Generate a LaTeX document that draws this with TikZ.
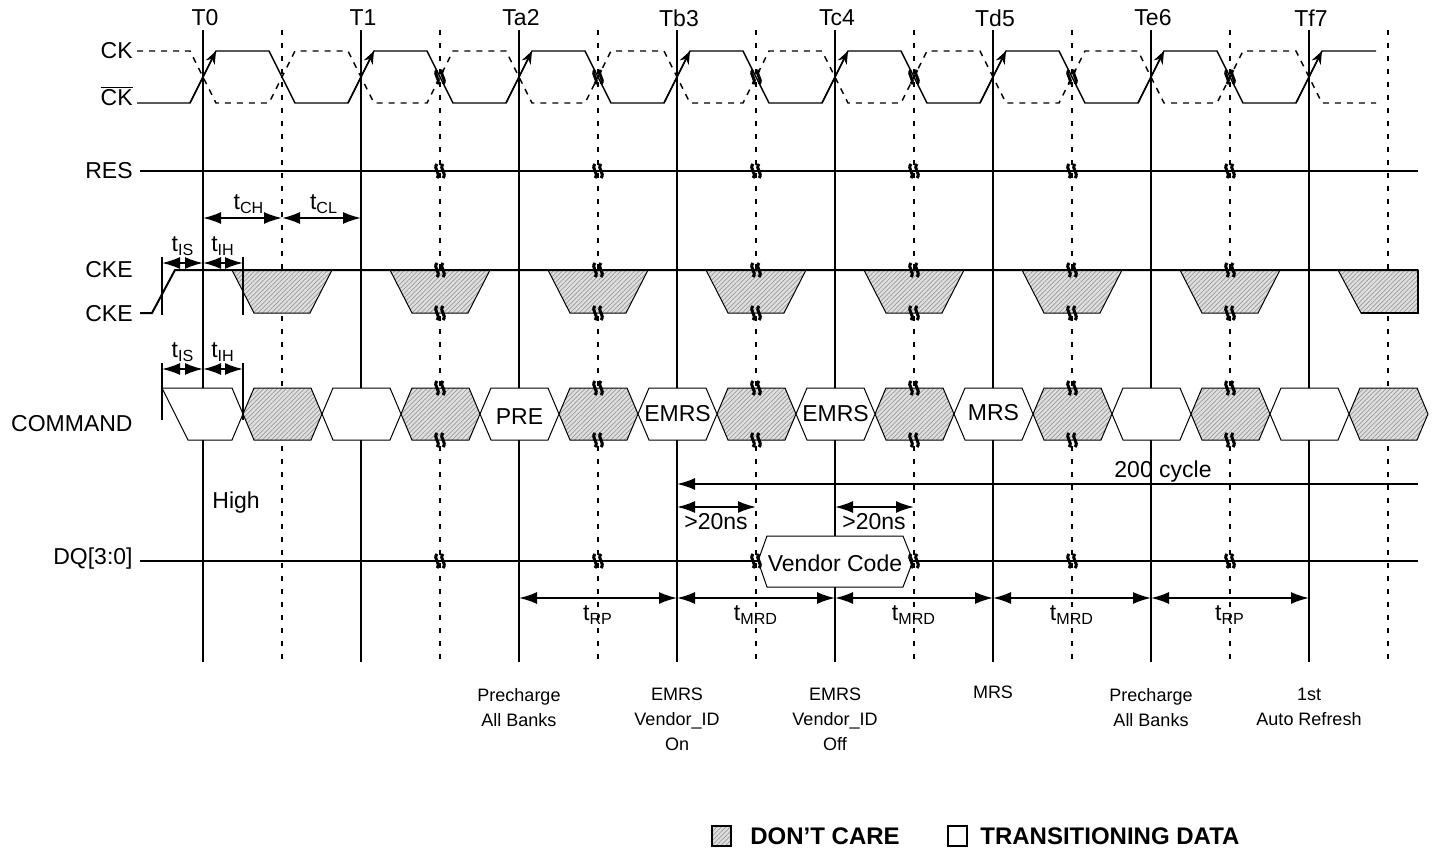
\documentclass[tikz,border=0pt]{standalone}
\usepackage{fontspec}
\setmainfont{Liberation Sans}
\usetikzlibrary{arrows.meta, patterns.meta, positioning}
\tikzset{
x=0.5pt, y=-0.5pt, % one unit is one pixel of the layout, y grows downwards
sig/.style={line width=1pt}, % level lines of the signals
clk/.style={line width=0.7pt}, % CK
clkbar/.style={line width=0.7pt, dash pattern=on 3pt off 3pt}, % inverted CK
cyc/.style={line width=1pt}, % solid lines at the clock edges
half/.style={line width=1pt, dash pattern=on 2.5pt off 4pt}, % dashed half cycle lines
tick/.style={line width=1pt},
dontcare/.style={line width=0.5pt, preaction={fill=gray!25}, pattern={Lines[angle=45, distance=1.6pt, line width=0.35pt]}, pattern color=gray!80},
valid/.style={line width=0.5pt, fill=white},
dim/.style={line width=0.9pt, {Latex[length=9pt,width=6pt]}-{Latex[length=9pt,width=6pt]}}, % timing arrows
lbl/.style={font=\fontsize{11.5}{13}\selectfont, inner sep=0pt},
note/.style={font=\fontsize{9}{12.5}\selectfont, align=center, anchor=north, inner sep=0pt},
key/.style={font=\bfseries\fontsize{12}{14}\selectfont, anchor=west, inner sep=0pt},
brk/.pic={\draw[line width=1.5pt] (-3,-7) .. controls (-7.5,-2) and (1.5,2) .. (-3,7) (3,-7) .. controls (-1.5,-2) and (7.5,2) .. (3,7);}, % break mark
}

\begin{document}
\begin{tikzpicture}
    \useasboundingbox (0,0) rectangle (1436,856);
    % clock grid
    \foreach \t/\n in {203/T0, 361/T1, 519/Ta2, 677/Tb3, 835/Tc4, 993/Td5, 1151/Te6, 1309/Tf7} {
        \draw[cyc] (\t,30) -- (\t,662);
        \node[lbl] (\n) at (\t+2,18) {\n};
    }
    \foreach \h in {282,440,...,1388}
        \draw[half] (\h,30) -- (\h,662);

    % signal names
    \node[lbl, anchor=east] (ck) at (133,51) {CK};
    \node[lbl, anchor=east] (ckn) at (133,96) {$\overline{\mbox{CK}}$};
    \node[lbl, anchor=east] (res) at (133,171) {RES};
    \node[lbl, anchor=east] (cke) at (133,270) {CKE};
    \node[lbl, anchor=east] (cken) at (133,314) {CKE};
    \node[lbl, anchor=east] (cmd) at (133,424) {COMMAND};
    \node[lbl, anchor=east] (dq) at (133,559) {DQ[3:0]};

    % CK and CK#
    \draw[clk] (137,103) \foreach \t in {203,361,...,1151} { -- (\t-13,103) -- (\t+13,51) -- (\t+66,51) -- (\t+92,103) } -- (1296,103) -- (1322,51) -- (1376,51);
    \draw[clkbar] (137,51) \foreach \t in {203,361,...,1151} { -- (\t-13,51) -- (\t+13,103) -- (\t+66,103) -- (\t+92,51) } -- (1296,51) -- (1322,103) -- (1376,103);
    \foreach \t in {203,361,...,1309}
        \draw[clk, -{Stealth[length=6.5pt,width=5pt]}] (\t-13,103) -- (\t+13,51);

    % RES
    \draw[sig] (140,171) -- (1418,171);

    % tCH, tCL
    \draw[dim] (203,218) -- (282,218);
    \draw[dim] (282,218) -- (361,218);
    \node[lbl] (tch) at (249,204) {t\textsubscript{CH}};
    \node[lbl] (tcl) at (324,204) {t\textsubscript{CL}};

    % CKE
    \foreach \m in {282,440,...,1230}
        \draw[dontcare] (\m-50,270) -- (\m+50,270) -- (\m+28,313) -- (\m-28,313) -- cycle;
    \draw[dontcare] (1338,270) -- (1418,270) -- (1418,313) -- (1361,313) -- cycle;
    \draw[sig] (1418,270) -- (1418,313) -- (1361,313);
    \draw[sig] (140,313) -- (152,313) -- (175,270) -- (1418,270);
    \draw[tick] (162,257) -- (162,315);
    \draw[tick] (243,257) -- (243,315);
    \draw[dim] (162,263) -- (203,263);
    \draw[dim] (203,263) -- (243,263);
    \node[lbl] (tis1) at (183,246) {t\textsubscript{IS}};
    \node[lbl] (tih1) at (223,246) {t\textsubscript{IH}};

    % COMMAND
    \draw[valid] (162,388) -- (232,388) -- (243,414) -- (232,440) -- (188,440) -- cycle;
    \foreach \c in {243,401,...,1349}
        \draw[dontcare] (\c,414) -- (\c+11,388) -- (\c+68,388) -- (\c+79,414) -- (\c+68,440) -- (\c+11,440) -- cycle;
    \foreach \c in {322,480,...,1270}
        \draw[valid] (\c,414) -- (\c+11,388) -- (\c+68,388) -- (\c+79,414) -- (\c+68,440) -- (\c+11,440) -- cycle;
    \node[lbl] (pre) at (519.5,417) {PRE};
    \node[lbl] (emrs1) at (677.5,414) {EMRS};
    \node[lbl] (emrs2) at (835.5,414) {EMRS};
    \node[lbl] (mrs) at (993.5,413) {MRS};
    \draw[tick] (162,363) -- (162,420);
    \draw[tick] (243,363) -- (243,420);
    \draw[dim] (162,369) -- (203,369);
    \draw[dim] (203,369) -- (243,369);
    \node[lbl] (tis2) at (183,352) {t\textsubscript{IS}};
    \node[lbl] (tih2) at (223,352) {t\textsubscript{IH}};

    % 200 cycle, >20ns
    \draw[line width=0.9pt, {Latex[length=9pt,width=6pt]}-] (677,484) -- (1418,484);
    \node[lbl] (cyc200) at (1163,472) {200 cycle};
    \draw[dim] (677,507) -- (756,507);
    \node[lbl] (ns1) at (716,522) {>20ns};
    \draw[dim] (835,507) -- (914,507);
    \node[lbl] (ns2) at (874,522) {>20ns};
    \node[lbl, anchor=west] (high) at (212,503) {High};

    % DQ
    \draw[sig] (140,561) -- (758,561);
    \draw[sig] (913,561) -- (1418,561);
    \draw[valid] (758,561) -- (767,536) -- (903,536) -- (913,561) -- (903,587) -- (767,587) -- cycle;
    \node[lbl] (vendor) at (835,563) {Vendor Code};

    % tRP, tMRD
    \foreach \a/\b/\s in {519/677/RP, 677/835/MRD, 835/993/MRD, 993/1151/MRD, 1151/1309/RP} {
        \draw[dim] (\a,598) -- (\b,598);
        \node[lbl] at ({(\a+\b)/2},615) {t\textsubscript{\s}};
    }

    % break marks
    \foreach \m in {440,598,...,1230}
        \foreach \y in {77,171,270,313,388,440,561}
            \pic at (\m,\y) {brk};

    % commands issued
    \node[note] (pre-n) at (519,688) {Precharge\\All Banks};
    \node[note] (emrs-on) at (677,688) {EMRS\\Vendor\_ID\\On};
    \node[note] (emrs-off) at (835,688) {EMRS\\Vendor\_ID\\Off};
    \node[note] (mrs-n) at (993,686) {MRS};
    \node[note] (pre-n2) at (1151,688) {Precharge\\All Banks};
    \node[note] (ref-n) at (1309,688) {1st\\Auto Refresh};

    % legend
    \draw[dontcare, line width=0.8pt] (712,826) rectangle (731,846);
    \node[key] (dc) at (750,836) {DON'T CARE};
    \draw[valid, line width=0.8pt] (948,826) rectangle (967,846);
    \node[key] (td) at (980,836) {TRANSITIONING DATA};
\end{tikzpicture}
\end{document}
